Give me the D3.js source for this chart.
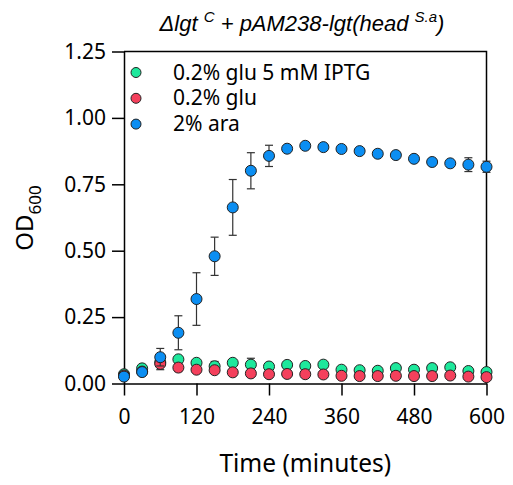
<!DOCTYPE html>
<html>
<head>
<meta charset="utf-8">
<style>
  body { margin: 0; background: #fff; }
  text { font-family: "Noto Sans", sans-serif; }
  .title { font-family: "Liberation Sans", Arial, sans-serif; font-style: italic; font-size: 22px; }
</style>
</head>
<body>
<svg id="chart" width="513" height="485"></svg>
<script src="https://cdn.jsdelivr.net/npm/d3@7"></script>
<script>
// time points (minutes)
var times = [0, 30, 60, 90, 120, 150, 180, 210, 240, 270, 300, 330, 360, 390, 420, 450, 480, 510, 540, 570, 600];

var seriesNames = ["0.2% glu 5 mM IPTG", "0.2% glu", "2% ara"];
var seriesColors = ["#1ee89c", "#f4405c", "#0b8ef2"];

var gluIptg = [0.035, 0.057, 0.080, 0.091, 0.078, 0.065, 0.078, 0.071, 0.064, 0.070, 0.066, 0.071, 0.052, 0.050, 0.048, 0.058, 0.052, 0.058, 0.061, 0.047, 0.043];
var gluIptgErr = [0.005, 0.005, 0.010, 0.008, 0.006, 0.018, 0.005, 0.024, 0.005, 0.005, 0.005, 0.005, 0.005, 0.005, 0.005, 0.005, 0.005, 0.005, 0.005, 0.005, 0.005];

var glu = [0.030, 0.045, 0.074, 0.060, 0.052, 0.050, 0.042, 0.038, 0.035, 0.036, 0.035, 0.034, 0.029, 0.028, 0.028, 0.029, 0.028, 0.028, 0.030, 0.026, 0.024];
var gluErr = [0.004, 0.004, 0.022, 0.015, 0.006, 0.005, 0.004, 0.004, 0.004, 0.004, 0.004, 0.004, 0.004, 0.004, 0.004, 0.004, 0.004, 0.004, 0.004, 0.004, 0.004];

var ara = [0.026, 0.043, 0.099, 0.191, 0.318, 0.479, 0.663, 0.801, 0.857, 0.884, 0.895, 0.890, 0.883, 0.875, 0.865, 0.860, 0.846, 0.834, 0.829, 0.824, 0.816];
var araErr = [0.004, 0.006, 0.033, 0.064, 0.099, 0.072, 0.105, 0.068, 0.040, 0.006, 0.006, 0.006, 0.006, 0.006, 0.006, 0.006, 0.006, 0.006, 0.006, 0.026, 0.021];

var xTicks = [0, 120, 240, 360, 480, 600];
var yTicks = [0, 0.25, 0.5, 0.75, 1.0, 1.25];

var series = [
  {name: seriesNames[0], color: seriesColors[0], values: gluIptg, errs: gluIptgErr},
  {name: seriesNames[1], color: seriesColors[1], values: glu, errs: gluErr},
  {name: seriesNames[2], color: seriesColors[2], values: ara, errs: araErr}
];

var svg = d3.select("#chart"),
    margin = {top: 51.5, right: 26.5, bottom: 101.5, left: 124},
    width = +svg.attr("width") - margin.left - margin.right,
    height = +svg.attr("height") - margin.top - margin.bottom,
    g = svg.append("g").attr("transform", "translate(" + margin.left + "," + margin.top + ")");

var x = d3.scaleLinear().domain([0, 600]).range([0, width]);
var y = d3.scaleLinear().domain([0, 1.25]).range([height, 0]);

// frame (top + right)
g.append("path")
    .attr("fill", "none")
    .attr("stroke", "#000")
    .attr("stroke-width", 1.5)
    .attr("d", "M0,0H" + width + "V" + height);

var xAxis = g.append("g")
    .attr("transform", "translate(0," + height + ")")
    .call(d3.axisBottom(x).tickValues(xTicks).tickSize(12).tickSizeOuter(0).tickPadding(14));

var yAxis = g.append("g")
    .call(d3.axisLeft(y).tickValues(yTicks).tickFormat(d3.format(".2f")).tickSize(12).tickSizeOuter(0).tickPadding(6));

[xAxis, yAxis].forEach(function(a) {
  a.selectAll("path, line").attr("stroke", "#000").attr("stroke-width", 1.5);
  a.selectAll("text").attr("fill", "#000").style("font-family", "'Noto Sans', sans-serif").style("font-size", "21px");
});

// error bars then points, one series at a time
series.forEach(function(s) {
  var pts = times.map(function(t, i) { return {t: t, v: s.values[i], e: s.errs[i]}; });
  var eb = g.append("g").attr("stroke", "#333").attr("stroke-width", 1.2);
  pts.forEach(function(d) {
    var y1 = y(d.v + d.e), y2 = y(Math.max(0, d.v - d.e)), cx = x(d.t);
    eb.append("line").attr("x1", cx).attr("x2", cx).attr("y1", y1).attr("y2", y2);
    eb.append("line").attr("x1", cx - 4).attr("x2", cx + 4).attr("y1", y1).attr("y2", y1);
    eb.append("line").attr("x1", cx - 4).attr("x2", cx + 4).attr("y1", y2).attr("y2", y2);
  });
  g.append("g").selectAll("circle").data(pts).enter().append("circle")
      .attr("cx", function(d) { return x(d.t); })
      .attr("cy", function(d) { return y(d.v); })
      .attr("r", 5.5)
      .attr("fill", s.color)
      .attr("stroke", "#222")
      .attr("stroke-width", 1);
});

// legend
var legend = svg.append("g");
series.forEach(function(s, i) {
  legend.append("circle")
      .attr("cx", 136).attr("cy", 72.5 + i * 25.8)
      .attr("r", 5)
      .attr("fill", s.color).attr("stroke", "#222").attr("stroke-width", 1);
  legend.append("text")
      .attr("x", 173).attr("y", 79.5 + i * 25.8)
      .style("font-size", "21px")
      .text(s.name);
});

// axis titles
svg.append("text")
    .attr("x", margin.left + width / 2)
    .attr("y", 472)
    .attr("text-anchor", "middle")
    .style("font-size", "24.5px")
    .text("Time (minutes)");

var yl = svg.append("text")
    .attr("transform", "translate(33,218) rotate(-90)")
    .attr("text-anchor", "middle")
    .style("font-size", "24px");
yl.append("tspan").text("OD");
yl.append("tspan").attr("dy", 8).style("font-size", "17px").text("600");

// title
var title = svg.append("text")
    .attr("class", "title")
    .attr("x", 302)
    .attr("y", 31)
    .attr("text-anchor", "middle");
title.append("tspan").text("\u0394lgt ");
title.append("tspan").attr("dy", -9).style("font-size", "15px").text("C");
title.append("tspan").attr("dy", 9).text(" + pAM238-lgt(head ");
title.append("tspan").attr("dy", -9).style("font-size", "15px").text("S.a");
title.append("tspan").attr("dy", 9).text(")");
</script>
</body>
</html>
